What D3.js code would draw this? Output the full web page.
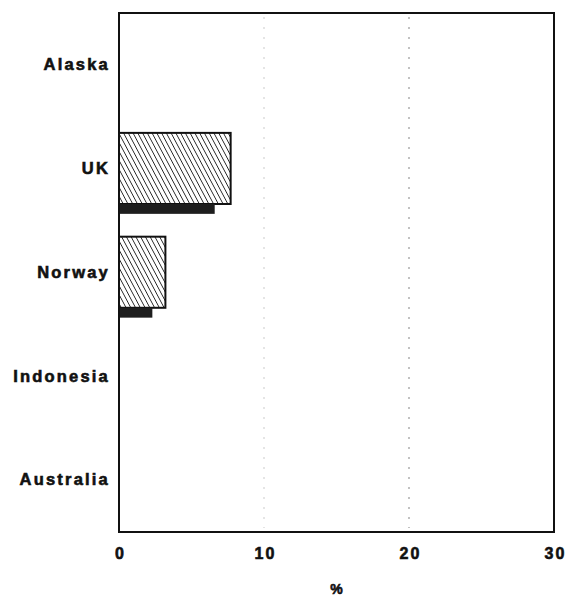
<!DOCTYPE html>
<html>
<head>
<meta charset="utf-8">
<script src="https://cdn.jsdelivr.net/npm/d3@7"></script>
<style>
  html, body { margin: 0; padding: 0; background: #fff; }
  svg text { font-family: "Liberation Sans", Arial, sans-serif; font-weight: bold; fill: #111; stroke: #111; stroke-width: 0.6px; }
</style>
</head>
<body>
<svg id="chart" width="569" height="599"></svg>
<script>
// Producing regions and their two shares (%)
const regions = ["Alaska", "UK", "Norway", "Indonesia", "Australia"];
const shareA = [0, 7.7, 3.2, 0, 0];   // hatched bars
const shareB = [0, 6.6, 2.3, 0, 0];   // dark bars
const xTicks = [0, 10, 20, 30];
const gridTicks = [10, 20];

const svg = d3.select("#chart");
const margin = { left: 119, right: 15, top: 13, bottom: 67 };
const W = 569, H = 599;

const x = d3.scaleLinear().domain([0, 30]).range([margin.left, W - margin.right]);
const y = d3.scaleBand().domain(regions).range([margin.top, H - margin.bottom]);
const bw = y.bandwidth();

// hatch pattern
const defs = svg.append("defs");
const pat = defs.append("pattern")
  .attr("id", "hatch").attr("patternUnits", "userSpaceOnUse")
  .attr("width", 4.2).attr("height", 4.2)
  .attr("patternTransform", "rotate(-28)");
pat.append("rect").attr("width", 4.2).attr("height", 4.2).attr("fill", "#fff");
pat.append("line").attr("x1", 0).attr("y1", 0).attr("x2", 0).attr("y2", 4.2)
  .attr("stroke", "#222").attr("stroke-width", 1.7);

// faint dotted grid
svg.append("g").selectAll("line").data(gridTicks).join("line")
  .attr("x1", d => x(d)).attr("x2", d => x(d))
  .attr("y1", margin.top + 4).attr("y2", H - margin.bottom - 4)
  .attr("stroke", d => d === 20 ? "#999" : "#d4d4d4")
  .attr("stroke-width", 1.2)
  .attr("stroke-dasharray", "2,8");

// hatched bars
svg.append("g").selectAll("rect").data(regions.filter((r, i) => shareA[i] > 0)).join("rect")
  .attr("x", x(0))
  .attr("y", r => y(r) + bw * 0.155)
  .attr("width", r => x(shareA[regions.indexOf(r)]) - x(0))
  .attr("height", bw * 0.685)
  .attr("fill", "url(#hatch)")
  .attr("stroke", "#111").attr("stroke-width", 2);

// dark bars
svg.append("g").selectAll("rect").data(regions.filter((r, i) => shareB[i] > 0)).join("rect")
  .attr("x", x(0))
  .attr("y", r => y(r) + bw * 0.84)
  .attr("width", r => x(shareB[regions.indexOf(r)]) - x(0))
  .attr("height", bw * 0.095)
  .attr("fill", "#1e1e1e");

// frame
svg.append("rect")
  .attr("x", margin.left).attr("y", margin.top)
  .attr("width", W - margin.right - margin.left)
  .attr("height", H - margin.bottom - margin.top)
  .attr("fill", "none").attr("stroke", "#111").attr("stroke-width", 2);

// x axis labels
const xAxis = d3.axisBottom(x).tickValues(xTicks).tickSize(0).tickPadding(16);
const gx = svg.append("g").attr("transform", `translate(0,${H - margin.bottom})`).call(xAxis);
gx.select(".domain").remove();
gx.selectAll("text").style("font-size", "16px").style("letter-spacing", "2px")
  .attr("dx", "1px").attr("fill", "#111");

// y axis labels
const yAxis = d3.axisLeft(y).tickSize(0).tickPadding(9);
const gy = svg.append("g").attr("transform", `translate(${margin.left},0)`).call(yAxis);
gy.select(".domain").remove();
gy.selectAll("text").style("font-size", "16.5px").style("letter-spacing", "2.2px")
  .attr("dx", "0px").attr("fill", "#111");

// axis title
svg.append("text").attr("x", x(15)).attr("y", 594)
  .attr("text-anchor", "middle").style("font-size", "14px").text("%");
</script>
</body>
</html>
